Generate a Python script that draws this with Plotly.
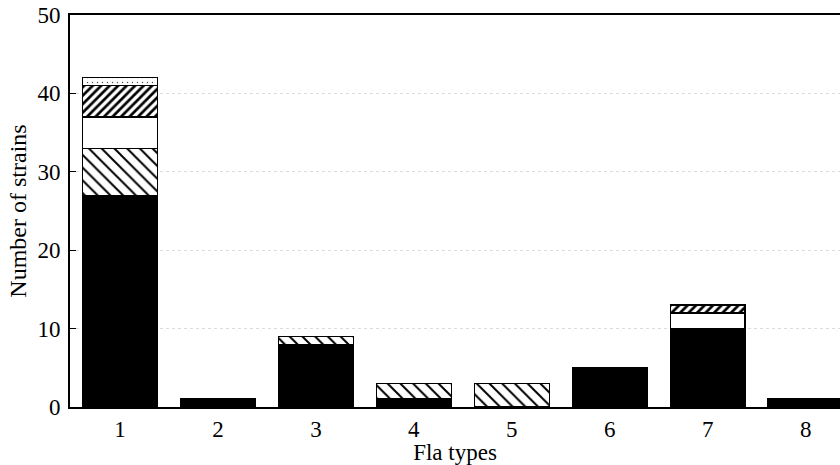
import plotly.graph_objects as go

categories = ["1", "2", "3", "4", "5", "6", "7", "8"]
x_pos = [1, 2, 3, 4, 5, 6, 7, 8]
black_vals = [27, 1, 8, 1, 0, 5, 10, 1]
backslash_vals = [6, 0, 1, 2, 3, 0, 0, 0]
white_vals = [4, 0, 0, 0, 0, 0, 2, 0]
forward_vals = [4, 0, 0, 0, 0, 0, 1, 0]
dotted_vals = [1, 0, 0, 0, 0, 0, 0, 0]
y_ticks = [0, 10, 20, 30, 40, 50]

series = [
    ("black", black_vals, dict(color="black")),
    ("backslash", backslash_vals, dict(color="white", pattern=dict(shape="\\", fgcolor="black", bgcolor="white", fgopacity=1, size=9, solidity=0.22))),
    ("white", white_vals, dict(color="white")),
    ("forward", forward_vals, dict(color="white", pattern=dict(shape="/", fgcolor="black", bgcolor="white", fgopacity=1, size=6, solidity=0.45))),
    ("dotted", dotted_vals, dict(color="white", pattern=dict(shape=".", fgcolor="black", bgcolor="white", fgopacity=0.7, size=5, solidity=0.06))),
]

fig = go.Figure()
for name, vals, mk in series:
    mk = dict(mk)
    mk["line"] = dict(color="black", width=1.5)
    fig.add_trace(go.Bar(x=x_pos, y=vals, name=name, width=0.765, marker=mk))

font = "Liberation Serif, Times New Roman, serif"
fig.update_layout(
    barmode="stack",
    width=840, height=465,
    margin=dict(l=70, r=0, t=15, b=58),
    paper_bgcolor="white", plot_bgcolor="white",
    showlegend=False,
    font=dict(family=font, size=24, color="black"),
    xaxis=dict(
        range=[0.49, 8.35], tickvals=x_pos, ticktext=categories,
        showline=True, linecolor="black", linewidth=2, mirror=True,
        ticks="", showgrid=False, zeroline=False,
        title=dict(text="Fla types", font=dict(size=23), standoff=0),
        tickfont=dict(size=23),
    ),
    yaxis=dict(
        range=[0, 50], tickvals=y_ticks,
        showline=True, linecolor="black", linewidth=2,
        ticks="inside", ticklen=6, tickcolor="black",
        ticklabelstandoff=3,
        showgrid=True, gridcolor="#dcdcdc", griddash="dot", gridwidth=1,
        zeroline=False,
        title=dict(text="Number of strains", font=dict(size=24), standoff=4),
        tickfont=dict(size=23),
    ),
)

fig.write_html("out.html", config={"displayModeBar": False},
               post_script="document.body.style.margin='0';document.body.style.padding='0';")
